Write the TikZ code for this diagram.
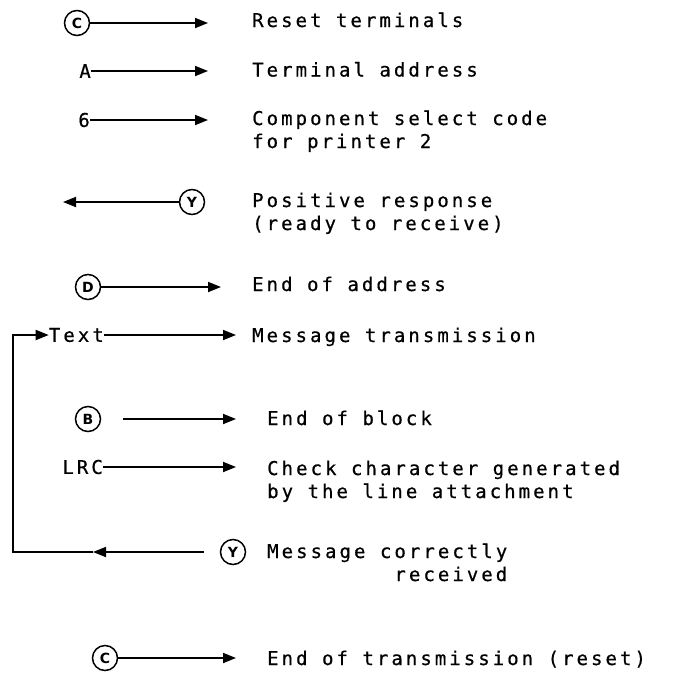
\documentclass[tikz,border=0pt]{standalone}
\usepackage{fontspec}
\newfontfamily\ibmfont[LetterSpace=16,FakeBold=0.6]{DejaVu Sans Mono}
\newfontfamily\ringfont{DejaVu Sans}
\usetikzlibrary{positioning,arrows.meta}

\tikzset{
  ring/.style={circle,draw,line width=1.5pt,minimum size=25pt,inner sep=0pt,
    font=\ringfont\bfseries\fontsize{14}{14}\selectfont},
  sym/.style={anchor=east,inner sep=0pt,font=\ibmfont\fontsize{19}{23}\selectfont},
  lab/.style={anchor=base west,inner sep=0pt,align=left,font=\ibmfont\fontsize{19}{23}\selectfont},
  wire/.style={line width=1.8pt},
  sig/.style={wire,-{Triangle[length=13pt,width=10pt]}},
}

\begin{document}
\begin{tikzpicture}[x=1pt,y=-1pt]
  \useasboundingbox (0,0) rectangle (675,673);
  % request side
  \node[ring] (c1) at (77,23) {C};
  \coordinate (c1e) at (208,23);
  \node[lab] (reset) at (252,27) {Reset terminals};
  \draw[sig] (c1) -- (c1e);

  \node[sym] (a) at (91,71) {A};
  \coordinate (ae) at (208,71);
  \node[lab] (addr) at (252,76.5) {Terminal address};
  \draw[sig] (a) -- (ae);

  \node[sym] (six) at (90,120) {6};
  \coordinate (sixe) at (208,120);
  \node[lab] (comp) at (252,148) {Component select code\\for printer 2};
  \draw[sig] (six) -- (sixe);

  \node[ring] (y1) at (192,202) {Y};
  \coordinate (y1e) at (63,202);
  \node[lab] (pos) at (252,230) {Positive response\\(ready to receive)};
  \draw[sig] (y1) -- (y1e);

  \node[ring] (d) at (88,287) {D};
  \coordinate (de) at (221,287);
  \node[lab] (eoa) at (252,291) {End of address};
  \draw[sig] (d) -- (de);

  % message block
  \node[sym] (txt) at (104,335) {Text};
  \coordinate (txte) at (236,335);
  \node[lab] (msg) at (252,342) {Message transmission};
  \draw[sig] (txt) -- (txte);

  \node[ring] (b) at (88,419) {B};
  \coordinate (be) at (236,419);
  \node[lab] (eob) at (267,425) {End of block};
  \draw[sig,shorten <=22pt] (b) -- (be);

  \node[sym] (lrc) at (103,467) {LRC};
  \coordinate (lrce) at (236,467);
  \node[lab] (chk) at (267,498) {Check character generated\\by the line attachment};
  \draw[sig] (lrc) -- (lrce);

  % answer and loop back
  \node[ring] (y2) at (233,552) {Y};
  \coordinate (back) at (93,552);
  \coordinate (corner) at (13,552);
  \node[lab,align=right] (ok) at (267,581) {Message correctly\\received};
  \draw[sig,shorten <=16pt] (y2) -- (back);
  \draw[sig] (back) -- (corner) |- (txt.west);

  \node[ring] (c2) at (105,658) {C};
  \coordinate (c2e) at (236,658);
  \node[lab] (eot) at (267,665) {End of transmission (reset)};
  \draw[sig] (c2) -- (c2e);
\end{tikzpicture}
\end{document}
